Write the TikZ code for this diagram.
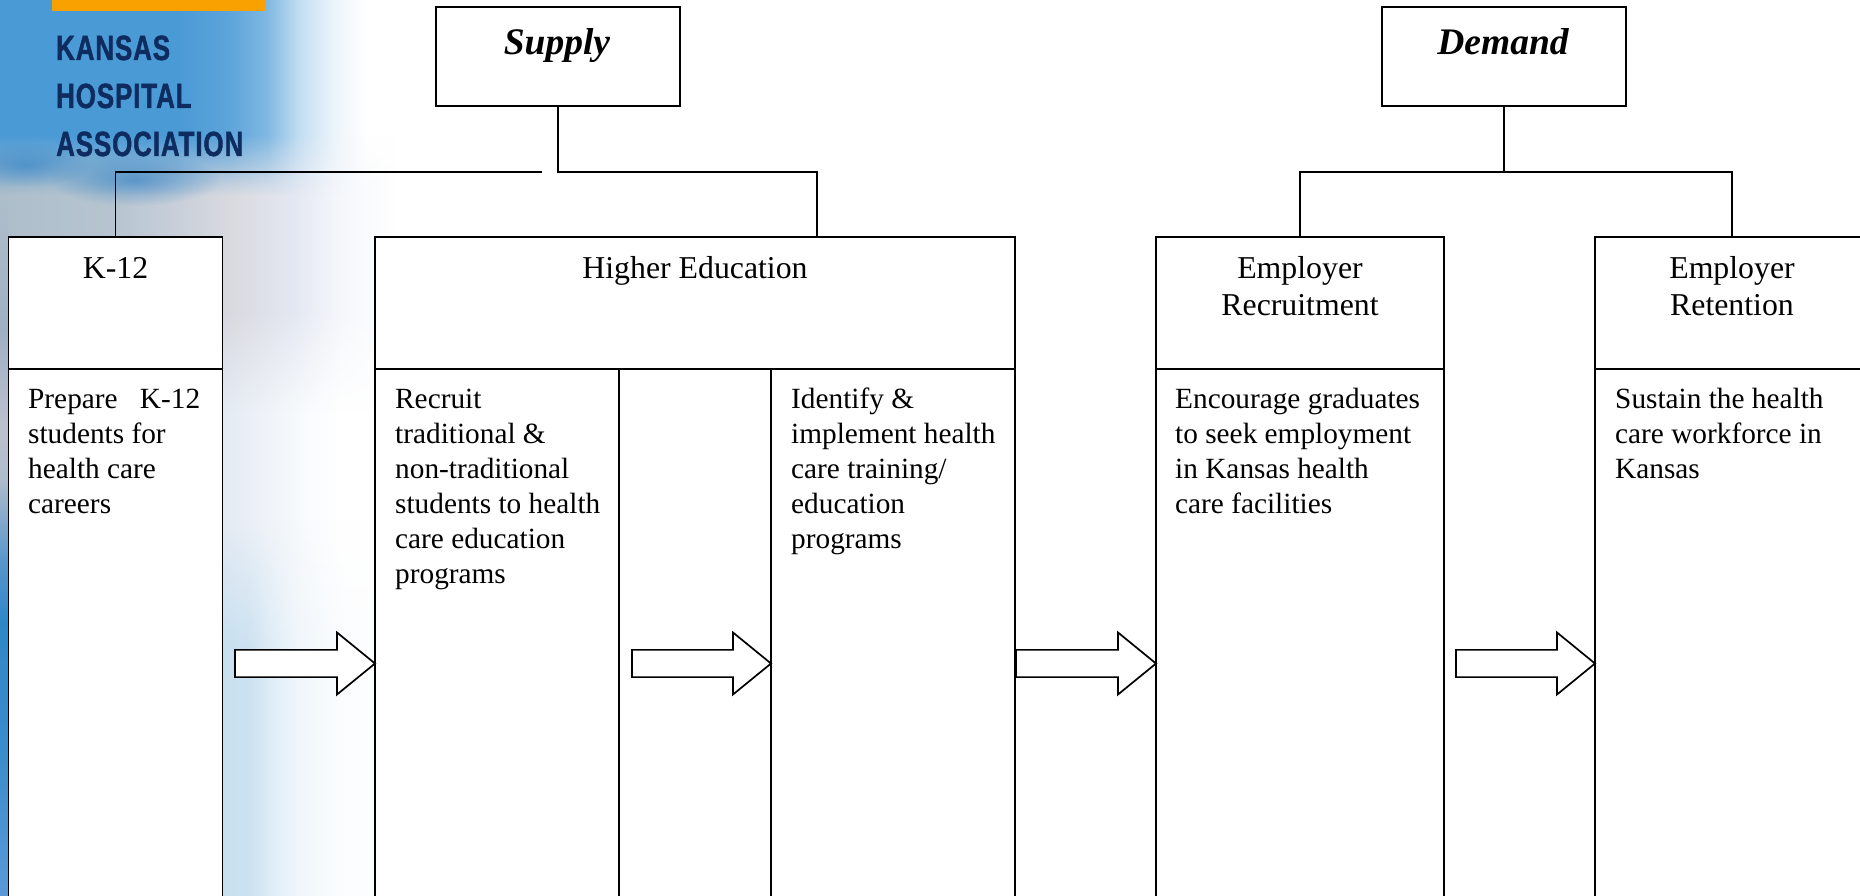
\documentclass[tikz,border=0pt]{standalone}
\usepackage{fontspec}
\setmainfont{Liberation Serif}
\newfontfamily\logofont[FakeStretch=0.74,LetterSpace=2.6,BoldFeatures={FakeBold=1.2}]{Liberation Sans}
\usetikzlibrary{shapes.arrows,fadings}
\definecolor{skyb}{HTML}{4A9AD6}
\definecolor{skyc}{HTML}{2F7FC4}
\definecolor{navy}{HTML}{0F2C60}
\definecolor{barc}{HTML}{F8A100}
\pgfdeclarehorizontalshading{skytop}{100bp}{color(0bp)=(skyb); color(25bp)=(skyb); color(42bp)=(skyb); color(47bp)=(skyb!90!white); color(50.7bp)=(skyb!70!white); color(53.8bp)=(skyb!33!white); color(57bp)=(skyb!11!white); color(60.3bp)=(white); color(100bp)=(white)}
\pgfdeclarehorizontalshading{hazemid}{100bp}{rgb(0bp)=(.68,.745,.795); rgb(25bp)=(.68,.745,.795); rgb(35.6bp)=(.71,.77,.815); rgb(41bp)=(.775,.805,.85); rgb(48bp)=(.855,.86,.88); rgb(53bp)=(.89,.905,.945); rgb(57.7bp)=(.96,.97,.985); rgb(63.5bp)=(1,1,1); rgb(100bp)=(1,1,1)}
\pgfdeclarehorizontalshading{midpale}{100bp}{rgb(0bp)=(.89,.915,.95); rgb(46bp)=(.89,.915,.95); rgb(53.8bp)=(.97,.98,.99); rgb(57.7bp)=(1,1,1); rgb(100bp)=(1,1,1)}
\pgfdeclarehorizontalshading{lowpale}{100bp}{rgb(0bp)=(.775,.875,.94); rgb(46bp)=(.775,.875,.94); rgb(49bp)=(.80,.885,.945); rgb(51bp)=(.87,.925,.965); rgb(53.6bp)=(.94,.965,.985); rgb(58bp)=(.985,.99,.995); rgb(63.5bp)=(1,1,1); rgb(100bp)=(1,1,1)}
\pgfdeclareverticalshading{stripgrad}{100bp}{rgb(0bp)=(.35,.60,.84); rgb(25bp)=(.35,.60,.84); rgb(35.5bp)=(.23,.55,.80); rgb(44.8bp)=(.185,.53,.785); rgb(49.1bp)=(.35,.59,.80); rgb(54.9bp)=(.68,.735,.80); rgb(58.5bp)=(.735,.755,.815); rgb(65.7bp)=(.625,.69,.77); rgb(75bp)=(.68,.745,.795); rgb(100bp)=(.68,.745,.795)}
\tikzfading[name=blobfade, inner color=transparent!0, outer color=transparent!100]
\tikzfading[name=downfade, top color=transparent!0, bottom color=transparent!100]
\tikzfading[name=upfade, top color=transparent!100, bottom color=transparent!0]
\tikzset{
  boxnode/.style={draw=black, fill=white, rectangle, anchor=north west, inner sep=0pt, outer sep=0pt, line width=1.7pt},
  headtext/.style={anchor=north, align=center, inner sep=0pt, font=\fontsize{31.8}{37}\selectfont},
  bodytext/.style={anchor=north west, align=left, inner sep=0pt, font=\fontsize{29.3}{35}\selectfont},
  titletext/.style={anchor=north, align=center, inner sep=0pt, font=\fontsize{37.5}{42}\selectfont\bfseries\itshape},
  linkline/.style={draw=black, line width=1.7pt},
  blockarrow/.style={draw=black, fill=white, single arrow, anchor=tip, inner sep=11.3pt, outer sep=0pt, minimum width=62pt, single arrow head extend=15.5pt, single arrow tip angle=78.4, line width=1.7pt},
  logotext/.style={anchor=base west, inner sep=0pt, text=navy, font=\fontsize{35}{35}\selectfont\logofont\bfseries}
}
\begin{document}
\begin{tikzpicture}[x=1pt,y=-1pt]
\useasboundingbox (0,0) rectangle (1860,896);
\clip (0,0) rectangle (1860,896);
% background
\fill[white] (0,0) rectangle (1860,896);
\shade[shading=midpale] (0,280) rectangle (520,650);
\shade[shading=lowpale, path fading=upfade] (0,520) rectangle (520,650);
\shade[shading=lowpale] (0,650) rectangle (520,896);
\shade[shading=hazemid] (0,100) rectangle (520,310);
\shade[shading=hazemid, path fading=downfade] (0,310) rectangle (520,410);
\shade[shading=skytop] (0,0) rectangle (520,135);
\shade[shading=skytop, path fading=downfade] (0,135) rectangle (520,195);
\fill[skyc, path fading=blobfade, opacity=.6] (135,180) ellipse [x radius=85, y radius=26];
\fill[skyc, path fading=blobfade, opacity=.55] (25,165) ellipse [x radius=65, y radius=22];
\shade[shading=stripgrad] (0,200) rectangle (8,896);
% logo
\fill[barc] (52,0) rectangle (265,11);
\node[logotext] (kansas) at (56,60) {KANSAS};
\node[logotext] (hospital) at (56,108) {HOSPITAL};
\node[logotext] (assoc) at (56,156) {ASSOCIATION};
% top boxes
\node[boxnode, minimum width=244pt, minimum height=99pt] (supply) at (436,7) {};
\node[boxnode, minimum width=244pt, minimum height=99pt] (demand) at (1382,7) {};
\node[titletext] (supplyt) at (557,21) {\rule{0pt}{33pt}Supply};
\node[titletext] (demandt) at (1503,21) {\rule{0pt}{33pt}Demand};
% columns
\node[boxnode, minimum width=214pt, minimum height=132pt] (k12) at (8.5,237) {};
\node[boxnode, minimum width=214pt, minimum height=560pt] (k12b) at (8.5,369) {};
\node[boxnode, minimum width=640pt, minimum height=132pt] (he) at (375,237) {};
\node[boxnode, minimum width=244pt, minimum height=560pt] (hea) at (375,369) {};
\node[boxnode, minimum width=152pt, minimum height=560pt] (heb) at (619,369) {};
\node[boxnode, minimum width=244pt, minimum height=560pt] (hec) at (771,369) {};
\node[boxnode, minimum width=288pt, minimum height=132pt] (rec) at (1156,237) {};
\node[boxnode, minimum width=288pt, minimum height=560pt] (recb) at (1156,369) {};
\node[boxnode, minimum width=274pt, minimum height=132pt] (ret) at (1595,237) {};
\node[boxnode, minimum width=274pt, minimum height=560pt] (retb) at (1595,369) {};
% headings
\node[headtext] (k12t) at (k12.north) [yshift=-11.5pt] {\rule{0pt}{30pt}K-12};
\node[headtext] (het) at (he.north) [yshift=-11.5pt] {\rule{0pt}{30pt}Higher Education};
\node[headtext] (rect) at (rec.north) [yshift=-11.5pt] {\rule{0pt}{30pt}Employer\\Recruitment};
\node[headtext] (rett) at (ret.north) [yshift=-11.5pt] {\rule{0pt}{30pt}Employer\\Retention};
% body text
\node[bodytext] (k12x) at (28,378) {\rule{0pt}{30pt}Prepare\hspace{15pt} K-12\\students for\\health care\\careers};
\node[bodytext] (heax) at (395,378) {\rule{0pt}{30pt}Recruit\\traditional \&\\non-traditional\\students to health\\care education\\programs};
\node[bodytext] (hecx) at (791,378) {\rule{0pt}{30pt}Identify \&\\implement health\\care training/\\education\\programs};
\node[bodytext] (recx) at (1175,378) {\rule{0pt}{30pt}Encourage graduates\\to seek employment\\in Kansas health\\care facilities};
\node[bodytext] (retx) at (1615,378) {\rule{0pt}{30pt}Sustain the health\\care workforce in\\Kansas};
% connectors
\coordinate (leftstop) at (542,172);
\coordinate (hedrop) at (817,237);
\coordinate (djoin) at (demand.south |- 0,172);
\draw[linkline] (leftstop) -| (k12.north);
\draw[linkline] (supply.south) |- (hedrop |- 0,172) -- (hedrop);
\draw[linkline] (demand.south) -- (djoin);
\draw[linkline] (rec.north) |- (djoin) -| (ret.north);
% arrows
\node[blockarrow, minimum height=140pt] (a1) at (375,663.5) {};
\node[blockarrow, minimum height=139pt] (a2) at (771,663.5) {};
\node[blockarrow, minimum height=140pt] (a3) at (1156,663.5) {};
\node[blockarrow, minimum height=139pt] (a4) at (1595,663.5) {};
\end{tikzpicture}
\end{document}
